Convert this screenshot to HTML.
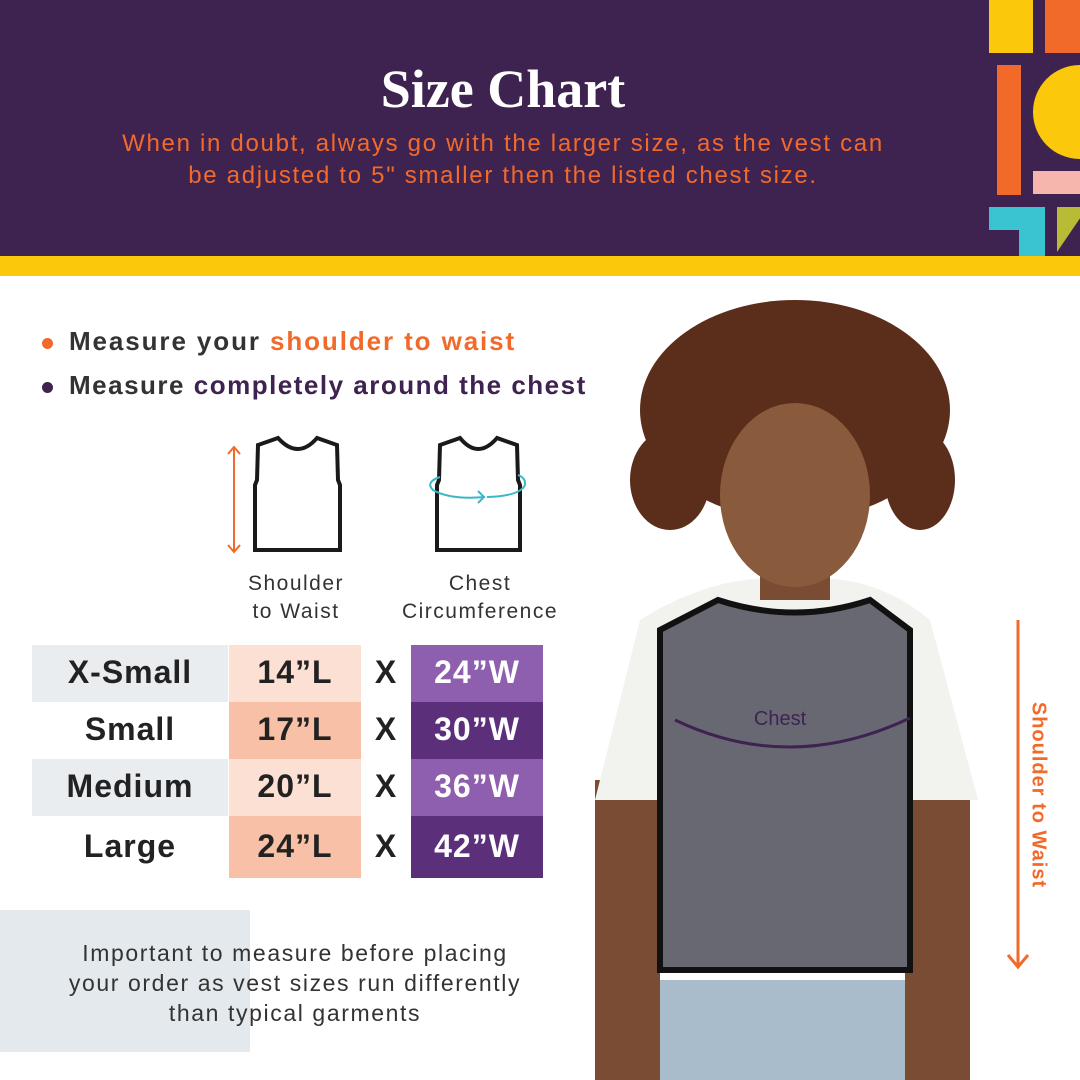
<!DOCTYPE html><html><head><style>
body{margin:0;width:1080px;height:1080px;overflow:hidden;background:#fff;font-family:"Liberation Sans",sans-serif;position:relative}
.a{position:absolute}
.hd{left:0;top:0;width:1080px;height:256px;background:#3e2351}
.t{font-family:"Liberation Serif",serif;color:#fff;font-size:54px;font-weight:bold;width:1006px;text-align:center;top:58px;left:0}
.sub{color:#f26a2a;font-size:24px;letter-spacing:1.7px;text-align:center;width:1006px;left:0;top:128px;line-height:32px}
.row{font-size:32px;font-weight:bold;color:#222;text-align:center;letter-spacing:1px}
</style></head><body>
<div class="a hd"></div>
<div class="a" style="left:0;top:256px;width:1080px;height:20px;background:#fcc80b"></div>
<div class="a t">Size Chart</div>
<div class="a sub">When in doubt, always go with the larger size, as the vest can<br>be adjusted to 5" smaller then the listed chest size.</div>
<!-- deco -->
<div class="a" style="left:989px;top:0;width:44px;height:53px;background:#fcc80b"></div>
<div class="a" style="left:1045px;top:0;width:35px;height:53px;background:#f26a2a"></div>
<div class="a" style="left:997px;top:65px;width:24px;height:130px;background:#f26a2a"></div>
<div class="a" style="left:1033px;top:65px;width:94px;height:94px;border-radius:50%;background:#fcc80b"></div>
<div class="a" style="left:1033px;top:171px;width:47px;height:23px;background:#f7b6ad"></div>
<div class="a" style="left:989px;top:207px;width:56px;height:49px;background:#3ac3d0"></div>
<div class="a" style="left:989px;top:230px;width:30px;height:26px;background:#3e2351"></div>
<div class="a" style="left:1057px;top:207px;width:23px;height:45px;background:#b8bb35;clip-path:polygon(0 0,100% 0,100% 25%,0 100%)"></div>
<!-- bullets -->
<div class="a" style="left:42px;top:338px;width:11px;height:11px;border-radius:50%;background:#f26a2a"></div>
<div class="a" style="left:42px;top:382px;width:11px;height:11px;border-radius:50%;background:#3e2351"></div>
<div class="a" style="left:69px;top:326px;font-size:26px;font-weight:bold;color:#333;letter-spacing:1.9px">Measure your <span style="color:#f26a2a">shoulder to waist</span></div>
<div class="a" style="left:69px;top:370px;font-size:26px;font-weight:bold;color:#333;letter-spacing:1.5px">Measure <span style="color:#3e2351">completely around the chest</span></div>
<svg class="a" style="left:200px;top:420px" width="350" height="150" fill="none" stroke="#1a1a1a" stroke-width="4">
<path d="M78 18 L58 25 L57 60 L55 65 L55 130 L140 130 L140 65 L138 60 L137 25 L117 18 Q98 40 78 18Z"/>
<path d="M260 18 L240 25 L239 60 L237 65 L237 130 L320 130 L320 65 L318 60 L317 25 L297 18 Q278 40 260 18Z"/>
<path d="M34 28 L34 131 M28 34 L34 27 L40 34 M28 125 L34 132 L40 125" stroke="#f26a2a" stroke-width="2"/>
<path d="M240 57 Q225 62 233 70 Q250 80 285 77 M287 77 Q320 76 325 65 Q326 58 318 55 M278 71 L284 77 L278 83" stroke="#3ab8c8" stroke-width="2"/>
</svg>
<div class="a" style="left:222px;top:570px;width:148px;text-align:center;font-size:21px;color:#333;line-height:28px;letter-spacing:1.5px">Shoulder<br>to Waist</div>
<div class="a" style="left:370px;top:570px;width:220px;text-align:center;font-size:21px;color:#333;line-height:28px;letter-spacing:1.5px">Chest<br>Circumference</div>
<!-- table -->
<div class="a" style="left:32px;top:645px;width:196px;height:57px;background:#e9edf0"></div>
<div class="a" style="left:32px;top:759px;width:196px;height:57px;background:#e9edf0"></div>
<div class="a" style="left:229px;top:645px;width:132px;height:57px;background:#fde0d4"></div>
<div class="a" style="left:229px;top:702px;width:132px;height:57px;background:#f8c0a6"></div>
<div class="a" style="left:229px;top:759px;width:132px;height:57px;background:#fde0d4"></div>
<div class="a" style="left:229px;top:816px;width:132px;height:62px;background:#f8c0a6"></div>
<div class="a" style="left:411px;top:645px;width:132px;height:57px;background:#8d5fae"></div>
<div class="a" style="left:411px;top:702px;width:132px;height:57px;background:#5c2f7a"></div>
<div class="a" style="left:411px;top:759px;width:132px;height:57px;background:#8d5fae"></div>
<div class="a" style="left:411px;top:816px;width:132px;height:62px;background:#5c2f7a"></div>
<div class="a row" style="left:32px;top:654px;width:196px">X-Small</div>
<div class="a row" style="left:32px;top:711px;width:196px">Small</div>
<div class="a row" style="left:32px;top:768px;width:196px">Medium</div>
<div class="a row" style="left:32px;top:828px;width:196px">Large</div>
<div class="a row" style="left:229px;top:654px;width:132px">14”L</div>
<div class="a row" style="left:229px;top:711px;width:132px">17”L</div>
<div class="a row" style="left:229px;top:768px;width:132px">20”L</div>
<div class="a row" style="left:229px;top:828px;width:132px">24”L</div>
<div class="a row" style="left:361px;top:654px;width:50px">X</div>
<div class="a row" style="left:361px;top:711px;width:50px">X</div>
<div class="a row" style="left:361px;top:768px;width:50px">X</div>
<div class="a row" style="left:361px;top:828px;width:50px">X</div>
<div class="a row" style="left:411px;top:654px;width:132px;color:#fff">24”W</div>
<div class="a row" style="left:411px;top:711px;width:132px;color:#fff">30”W</div>
<div class="a row" style="left:411px;top:768px;width:132px;color:#fff">36”W</div>
<div class="a row" style="left:411px;top:828px;width:132px;color:#fff">42”W</div>
<div class="a" style="left:0;top:910px;width:250px;height:142px;background:#e3e9ec"></div>
<div class="a" style="left:20px;top:938px;width:550px;text-align:center;font-size:23px;color:#333;line-height:30px;letter-spacing:1.6px">Important to measure before placing<br>your order as vest sizes run differently<br>than typical garments</div>
<!-- child -->
<svg class="a" style="left:580px;top:280px" width="420" height="800">
<rect x="80" y="700" width="250" height="100" fill="#a9bccc"/>
<rect x="15" y="500" width="65" height="300" fill="#7a4c33"/>
<rect x="325" y="500" width="65" height="300" fill="#7a4c33"/>
<path d="M60 340 Q140 290 215 300 Q290 290 350 340 L398 520 L15 520Z" fill="#f2f2ef"/>
<rect x="180" y="260" width="70" height="60" fill="#7a4c33"/>
<ellipse cx="215" cy="130" rx="155" ry="110" fill="#5a2e1a"/>
<ellipse cx="90" cy="200" rx="40" ry="50" fill="#5a2e1a"/>
<ellipse cx="340" cy="200" rx="35" ry="50" fill="#5a2e1a"/>
<ellipse cx="215" cy="215" rx="75" ry="92" fill="#8a5a3c"/>
<path d="M138 320 Q215 345 290 320 L330 350 L330 690 L80 690 L80 350Z" fill="#686873" stroke="#111" stroke-width="6"/>
<path d="M95 440 Q210 495 330 438" stroke="#3e2351" stroke-width="3" fill="none"/>
<text x="200" y="445" text-anchor="middle" font-size="20" fill="#3e2351" font-family="Liberation Sans">Chest</text>
</svg>
<svg class="a" style="left:1005px;top:615px" width="30" height="360"><path d="M13 5 L13 352 M3 340 L13 352 L23 340" stroke="#f26a2a" stroke-width="3" fill="none"/></svg>
<div class="a" style="left:1038px;top:795px;transform:translate(-50%,-50%) rotate(90deg);white-space:nowrap;color:#f26a2a;font-size:20px;font-weight:bold;letter-spacing:1px">Shoulder to Waist</div>
</body></html>
